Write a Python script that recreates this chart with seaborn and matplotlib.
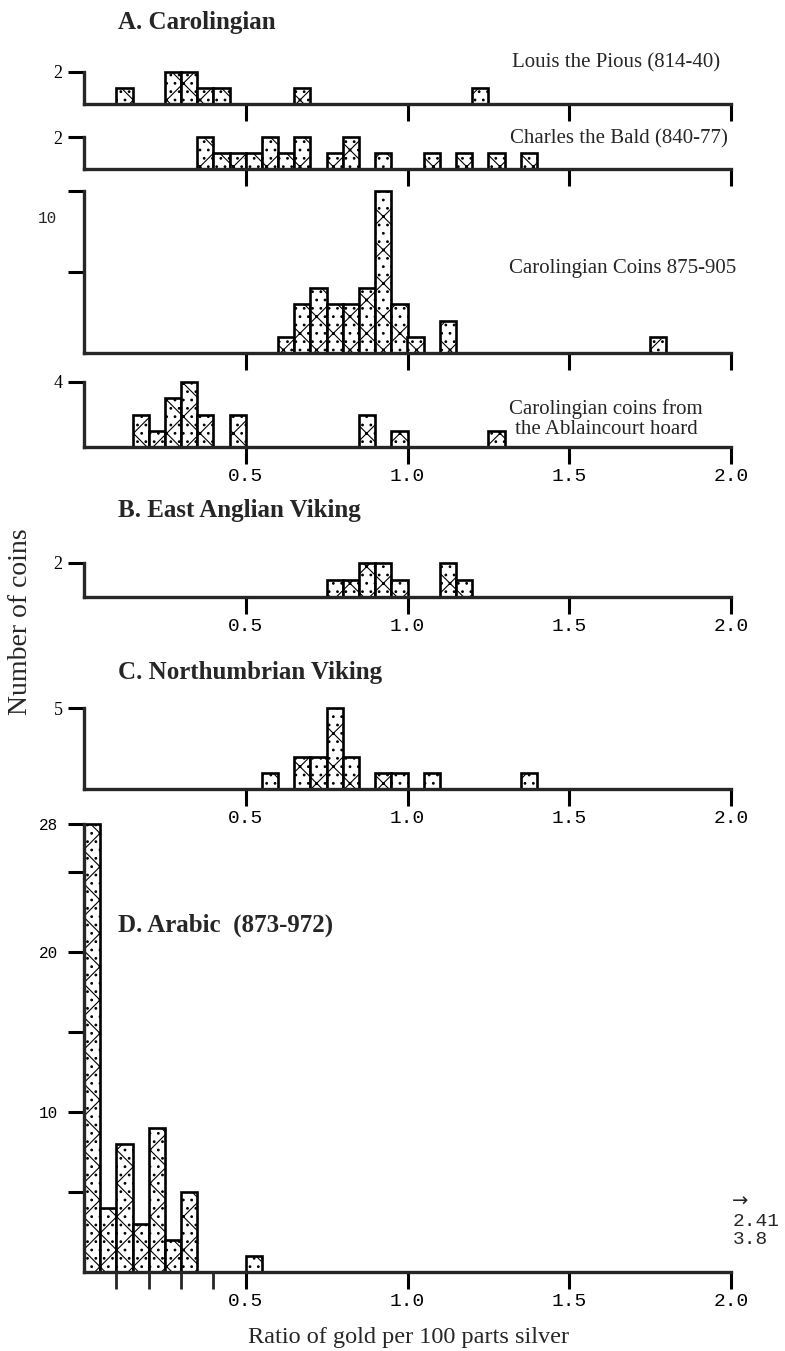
import numpy as np
import pandas as pd
import matplotlib
matplotlib.use("Agg")
import matplotlib.pyplot as plt
import seaborn as sns

# ---------------- data (left edge of each 0.05-wide bin, coin counts) ----------------
BIN_WIDTH = 0.05

louis_bins = [0.10, 0.25, 0.30, 0.35, 0.40, 0.65, 1.20]
louis_counts = [1, 2, 2, 1, 1, 1, 1]

charles_bins = [0.35, 0.40, 0.45, 0.50, 0.55, 0.60, 0.65, 0.75, 0.80, 0.90, 1.05, 1.15, 1.25, 1.35]
charles_counts = [2, 1, 1, 1, 2, 1, 2, 1, 2, 1, 1, 1, 1, 1]

carol875_bins = [0.60, 0.65, 0.70, 0.75, 0.80, 0.85, 0.90, 0.95, 1.00, 1.10, 1.75]
carol875_counts = [1, 3, 4, 3, 3, 4, 10, 3, 1, 2, 1]

ablain_bins = [0.15, 0.20, 0.25, 0.30, 0.35, 0.45, 0.85, 0.95, 1.25]
ablain_counts = [2, 1, 3, 4, 2, 2, 2, 1, 1]

eastanglia_bins = [0.75, 0.80, 0.85, 0.90, 0.95, 1.10, 1.15]
eastanglia_counts = [1, 1, 2, 2, 1, 2, 1]

northumb_bins = [0.55, 0.65, 0.70, 0.75, 0.80, 0.90, 0.95, 1.05, 1.35]
northumb_counts = [1, 2, 2, 5, 2, 1, 1, 1, 1]

arabic_bins = [0.00, 0.05, 0.10, 0.15, 0.20, 0.25, 0.30, 0.50]
arabic_counts = [28, 4, 8, 3, 9, 2, 5, 1]

x_ticks = [0.5, 1.0, 1.5, 2.0]
x_ticklabels = ["0.5", "1.0", "1.5", "2.0"]
arabic_minor_ticks = [0.1, 0.2, 0.3, 0.4]

# ---------------- style ----------------
sns.set_theme(style="ticks")
plt.rcParams["font.family"] = ["Liberation Serif", "DejaVu Serif"]
plt.rcParams["hatch.linewidth"] = 0.8
MONO = ["Liberation Mono", "DejaVu Sans Mono"]
SERIF = ["Liberation Serif", "DejaVu Serif"]

W, H = 785, 1351
fig = plt.figure(figsize=(W / 100, H / 100), dpi=100)

X0, X1 = 84, 731  # pixel extent of x axis


def fx(px):
    return px / W


def fy(py):
    return 1 - py / H


panels = [
    dict(bins=louis_bins, counts=louis_counts, top=72, base=104, ymax=2,
         yticks=[2], ylabels=["2"], yfont=SERIF, xlabels=False, minor=False),
    dict(bins=charles_bins, counts=charles_counts, top=137, base=169, ymax=2,
         yticks=[2], ylabels=["2"], yfont=SERIF, xlabels=False, minor=False),
    dict(bins=carol875_bins, counts=carol875_counts, top=191, base=353, ymax=10,
         yticks=[5, 10], ylabels=["", ""], yfont=MONO, xlabels=False, minor=False),
    dict(bins=ablain_bins, counts=ablain_counts, top=382, base=447, ymax=4,
         yticks=[4], ylabels=["4"], yfont=SERIF, xlabels=True, minor=False),
    dict(bins=eastanglia_bins, counts=eastanglia_counts, top=563, base=597, ymax=2,
         yticks=[2], ylabels=["2"], yfont=SERIF, xlabels=True, minor=False),
    dict(bins=northumb_bins, counts=northumb_counts, top=708, base=789, ymax=5,
         yticks=[5], ylabels=["5"], yfont=SERIF, xlabels=True, minor=False),
    dict(bins=arabic_bins, counts=arabic_counts, top=824, base=1272, ymax=28,
         yticks=[5, 10, 15, 20, 25, 28], ylabels=["", "10", "", "20", "", "28"],
         yfont=MONO, xlabels=True, minor=True),
]

axes = []
for p in panels:
    ax = fig.add_axes([fx(X0), fy(p["base"]), fx(X1 - X0), (p["base"] - p["top"]) / H])
    df = pd.DataFrame({"ratio": np.array(p["bins"]) + BIN_WIDTH / 2,
                       "coins": p["counts"]})
    sns.histplot(data=df, x="ratio", weights="coins", binwidth=BIN_WIDTH,
                 binrange=(0.0, 2.0), ax=ax,
                 color="white", edgecolor="black", linewidth=1.9,
                 hatch="x..", alpha=1, fill=True)
    for patch in ax.patches:
        patch.set_clip_on(False)
        if patch.get_height() == 0:
            patch.set_visible(False)
    ax.set_xlim(0, 2.0)
    ax.set_ylim(0, p["ymax"])
    ax.set_xlabel("")
    ax.set_ylabel("")
    ax.set_facecolor("none")
    sns.despine(ax=ax)
    for s in ("left", "bottom"):
        ax.spines[s].set_linewidth(2.4)
        ax.spines[s].set_capstyle("projecting")
    ax.set_xticks(x_ticks)
    if p["xlabels"]:
        ax.set_xticklabels(x_ticklabels, fontfamily=MONO, fontsize=14)
    else:
        ax.set_xticklabels([])
    if p["minor"]:
        ax.set_xticks(arabic_minor_ticks, minor=True)
        ax.tick_params(axis="x", which="minor", direction="out", length=12, width=2.0)
    ax.tick_params(axis="x", which="major", direction="out", length=12, width=2.2,
                   pad=3, colors="black")
    ax.set_yticks(p["yticks"])
    ax.set_yticklabels(p["ylabels"], fontfamily=p["yfont"],
                       fontsize=13 if p["yfont"] == SERIF else 11.5)
    ax.tick_params(axis="y", direction="out", length=11.5, width=2.2,
                   pad=4 if p["yfont"] == SERIF else 7, colors="black")
    ax.tick_params(axis="y", which="minor", left=False)
    axes.append(ax)

# misplaced "10" label of the 875-905 panel, as in the original
axes[2].annotate("10", xy=(0, 8.3), xycoords=("axes fraction", "data"),
                 xytext=(-19.5, 0), textcoords="offset points",
                 ha="right", va="center", fontfamily=MONO, fontsize=11.5)

# ---------------- texts ----------------
TITLE_KW = dict(fontsize=18, fontweight="bold", ha="left", va="center", fontfamily=SERIF)
fig.text(fx(118), fy(22), "A. Carolingian", **TITLE_KW)
fig.text(fx(118), fy(510), "B. East Anglian Viking", **TITLE_KW)
fig.text(fx(118), fy(673), "C. Northumbrian Viking", **TITLE_KW)
fig.text(fx(118), fy(925), "D. Arabic  (873-972)", **TITLE_KW)

LAB_KW = dict(fontsize=15, va="center", fontfamily=SERIF)
fig.text(fx(720), fy(63), "Louis the Pious (814-40)", ha="right", **LAB_KW)
fig.text(fx(728), fy(139), "Charles the Bald (840-77)", ha="right", **LAB_KW)
fig.text(fx(736), fy(268), "Carolingian Coins 875-905", ha="right", **LAB_KW)
fig.text(fx(606), fy(409), "Carolingian coins from", ha="center", **LAB_KW)
fig.text(fx(606), fy(430), "the Ablaincourt hoard", ha="center", **LAB_KW)

fig.text(fx(21), fy(622), "Number of coins", rotation=90, ha="center", va="center",
         fontsize=20, fontfamily=SERIF)
fig.text(fx(408), fy(1337), "Ratio of gold per 100 parts silver", ha="center",
         va="center", fontsize=17.5, fontfamily=SERIF)

fig.text(fx(732), fy(1211), "\u2192", ha="left", va="bottom", fontsize=14,
         fontfamily=["DejaVu Sans"])
fig.text(fx(733), fy(1221), "2.41", ha="left", va="center", fontsize=14, fontfamily=MONO)
fig.text(fx(733), fy(1240), "3.8", ha="left", va="center", fontsize=14, fontfamily=MONO)

fig.savefig("out.png", dpi=100, facecolor="white")
